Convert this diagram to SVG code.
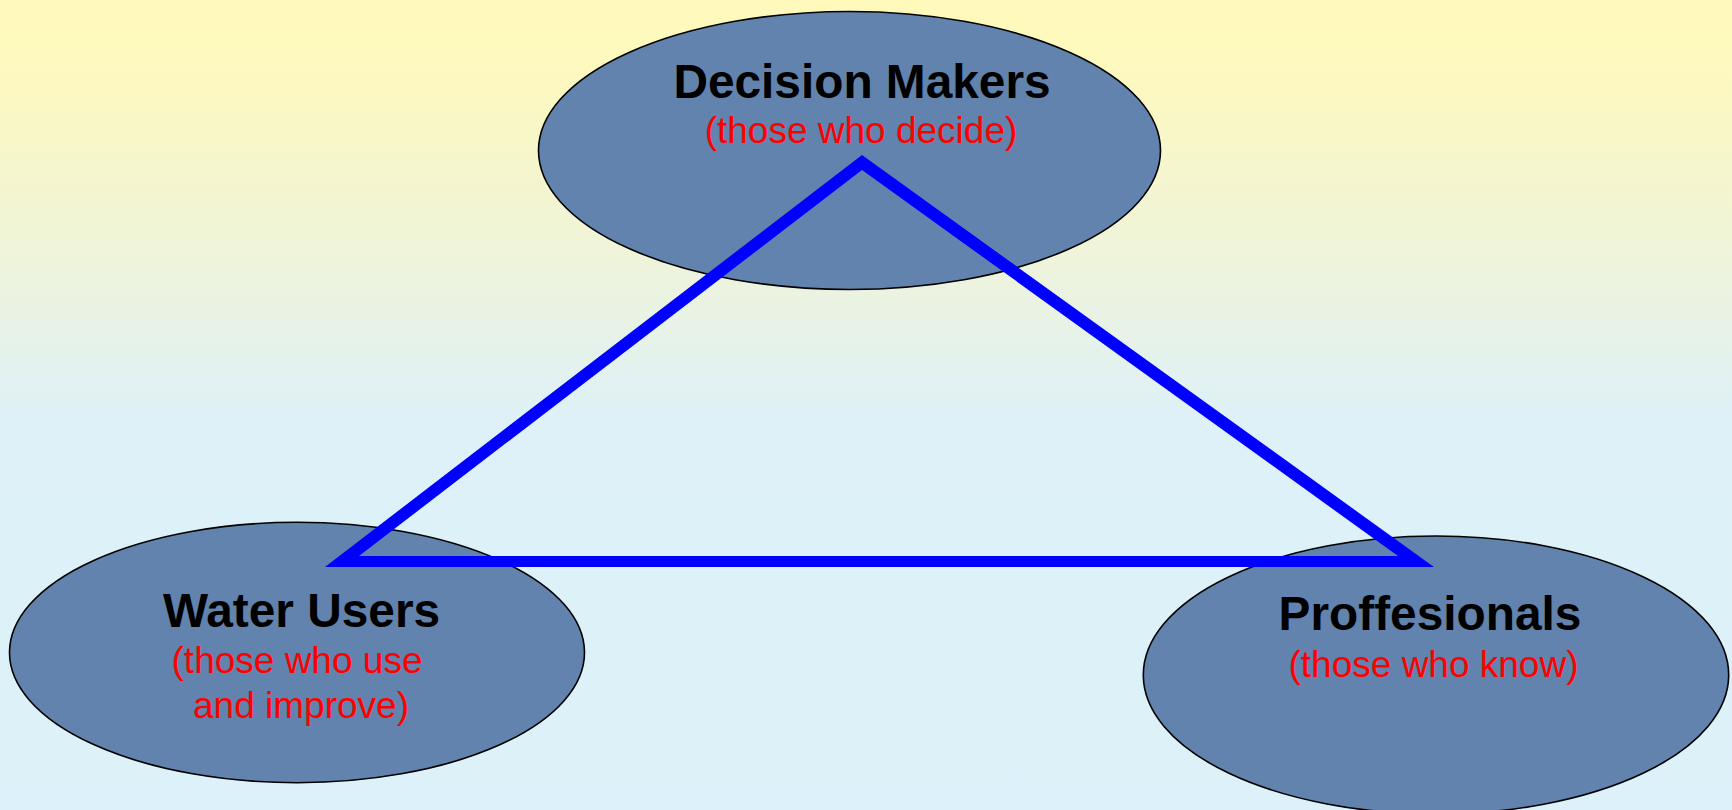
<svg xmlns="http://www.w3.org/2000/svg" width="1732" height="810" viewBox="0 0 1732 810">
  <defs>
    <linearGradient id="bg" x1="0" y1="0" x2="0" y2="810" gradientUnits="userSpaceOnUse">
      <stop offset="0" stop-color="#FFFABB"/>
      <stop offset="0.07" stop-color="#FEF9BD"/>
      <stop offset="0.3" stop-color="#F0F4D8"/>
      <stop offset="0.52" stop-color="#DEF1F8"/>
      <stop offset="1" stop-color="#DDF1FA"/>
    </linearGradient>
  </defs>
  <style>
    .node { fill: #6283AD; stroke: #000000; stroke-width: 1.6; }
    .title { font-family: "Liberation Sans", Arial, sans-serif; font-weight: bold; font-size: 47.8px; fill: #000000; text-anchor: middle; }
    .sub { font-family: "Liberation Sans", Arial, sans-serif; font-size: 37px; fill: #FF0000; text-anchor: middle; }
    .link { fill: #0000FF; fill-rule: evenodd; stroke: none; }
  </style>
  <rect x="0" y="0" width="1732" height="810" fill="url(#bg)"/>

  <g id="node-decision-makers">
    <ellipse class="node" cx="849.5" cy="150.5" rx="311" ry="139"/>
    <text class="title" x="862" y="97.5">Decision Makers</text>
    <text class="sub" x="861" y="142.5">(those who decide)</text>
  </g>

  <g id="node-water-users">
    <ellipse class="node" cx="297" cy="652.5" rx="287.5" ry="130.2"/>
    <text class="title" x="301.5" y="626.5">Water Users</text>
    <text class="sub" x="297" y="673.3">(those who use</text>
    <text class="sub" x="301" y="718.3">and improve)</text>
  </g>

  <g id="node-proffesionals">
    <ellipse class="node" cx="1436" cy="675" rx="292.7" ry="139"/>
    <text class="title" x="1430" y="630">Proffesionals</text>
    <text class="sub" x="1433.5" y="676.7">(those who know)</text>
  </g>

  <g id="connectors">
    <path class="link" d="M862,155 L325,567 L1434,567 Z M862,170 L359,556 L1398,556 Z"/>
  </g>
</svg>
